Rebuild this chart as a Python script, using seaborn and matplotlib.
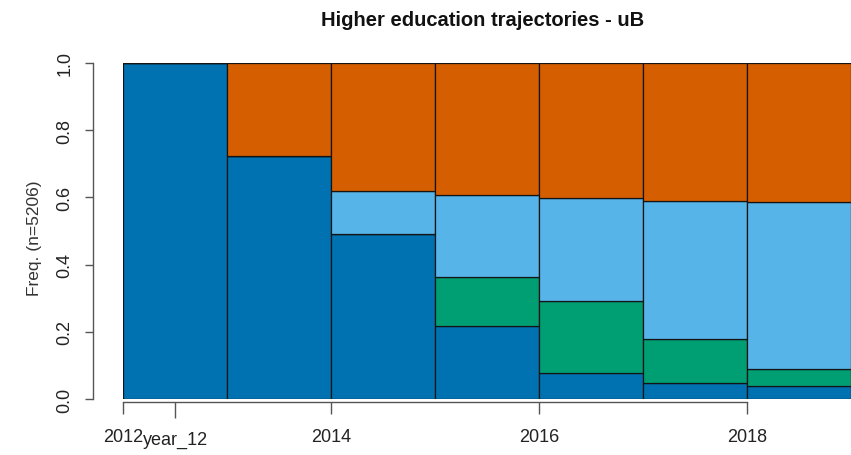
import pandas as pd
import numpy as np
import seaborn as sns
import matplotlib.pyplot as plt

# state distribution per year (bottom to top of each bar)
years = [2012, 2013, 2014, 2015, 2016, 2017, 2018]
state_1 = [1.000, 0.724, 0.491, 0.218, 0.077, 0.049, 0.038]  # dark blue
state_2 = [0.000, 0.000, 0.000, 0.144, 0.216, 0.130, 0.051]  # green
state_3 = [0.000, 0.000, 0.129, 0.245, 0.304, 0.411, 0.496]  # light blue
state_4 = [0.000, 0.276, 0.380, 0.393, 0.403, 0.410, 0.415]  # orange

states = ['state_4', 'state_3', 'state_2', 'state_1']  # top -> bottom
colors = ['#D55E00', '#56B4E9', '#009E73', '#0072B2']
x_ticks = [2012, 2014, 2016, 2018]
x_ticklabels = ['2012', '2014', '2016', '2018']
y_ticks = [0.0, 0.2, 0.4, 0.6, 0.8, 1.0]
y_ticklabels = ['0.0', '0.2', '0.4', '0.6', '0.8', '1.0']

df = pd.DataFrame({
    'year': years * 4,
    'freq': state_1 + state_2 + state_3 + state_4,
    'state': ['state_1'] * 7 + ['state_2'] * 7 + ['state_3'] * 7 + ['state_4'] * 7,
})

sns.set_style('white')
plt.rcParams['font.family'] = ['Liberation Sans', 'DejaVu Sans']

fig = plt.figure(figsize=(8.51, 4.56), dpi=100)
ax = fig.add_axes([123 / 851, 56 / 456, 728 / 851, 336 / 456])

sns.histplot(data=df, x='year', weights='freq', hue='state', hue_order=states,
             palette=colors, multiple='stack', bins=range(2012, 2020),
             alpha=1, edgecolor='#141414', linewidth=0.9, legend=False, ax=ax)

ax.set_xlim(2012, 2019)
ax.set_ylim(0, 1)

# R style axes
for side in ['top', 'right']:
    ax.spines[side].set_visible(False)
ax.spines['left'].set_position(('outward', 21.5))
ax.spines['left'].set_bounds(0, 1)
ax.spines['bottom'].set_position(('outward', 2.3))
ax.spines['bottom'].set_bounds(2012, 2018)
for side in ['left', 'bottom']:
    ax.spines[side].set_color('#555555')
    ax.spines[side].set_linewidth(1.0)

ax.set_xticks(x_ticks, x_ticklabels)
ax.set_xticks([2012.5], ['year_12'], minor=True)
ax.set_yticks(y_ticks, y_ticklabels)
ax.tick_params(axis='x', which='major', bottom=True, length=8.5, width=1.0,
               color='#555555', labelsize=13, pad=10, labelcolor='#222222')
ax.tick_params(axis='x', which='minor', bottom=True, length=11.5, width=1.0,
               color='#555555', labelsize=13, pad=9, labelcolor='#222222')
ax.tick_params(axis='y', left=True, length=6, width=1.0, color='#555555',
               labelsize=13, pad=8, labelrotation=90, labelcolor='#222222')
for lab in ax.get_yticklabels():
    lab.set_verticalalignment('center')

ax.set_xlabel('')
ax.set_ylabel('')
fig.text(34 / 851, 1 - 238 / 456, 'Freq. (n=5206)', rotation=90, ha='center',
         va='center', fontsize=12.5, color='#333333')
fig.text(483 / 851, 1 - 20 / 456, 'Higher education trajectories - uB',
         ha='center', va='center', fontsize=14.5, fontweight='bold',
         color='#111111')

plt.savefig('out.png', dpi=100)
plt.close()
